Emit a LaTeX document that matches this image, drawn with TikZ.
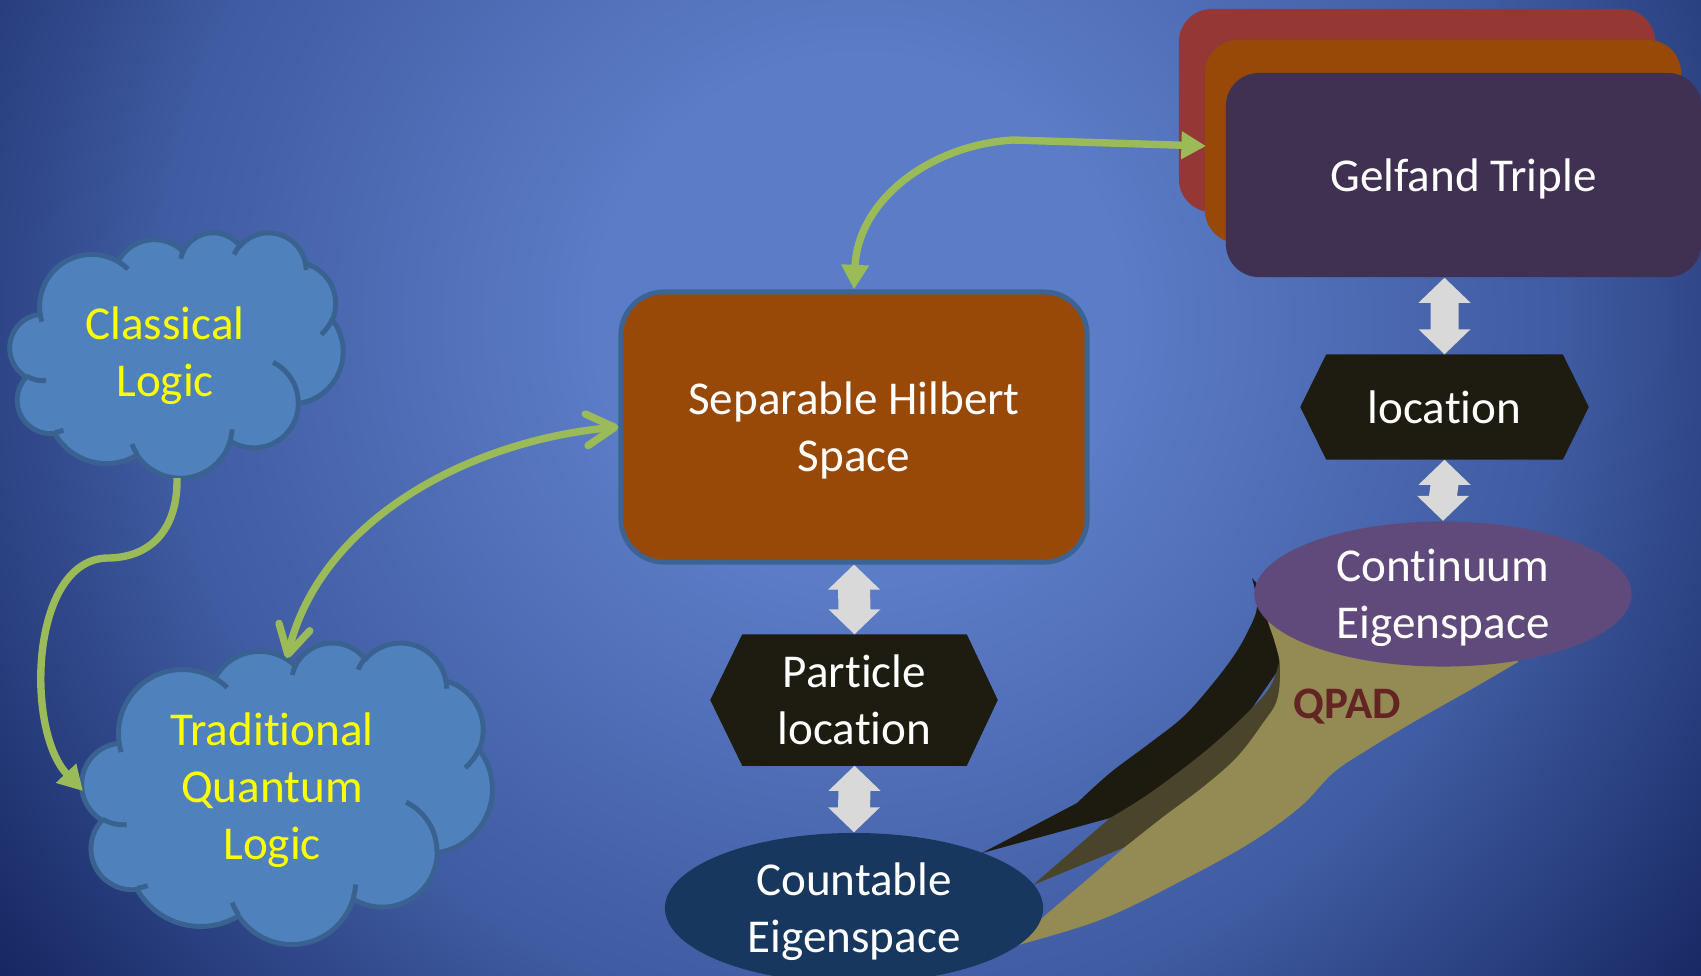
\documentclass[tikz,border=0pt]{standalone}
\usepackage{fontspec}
\setmainfont{Carlito}[Ligatures=CommonOff]
\usetikzlibrary{shapes.geometric,arrows.meta,calc}
\definecolor{bgin}{HTML}{5B7CC6}
\definecolor{bgmid}{HTML}{3F5BA1}
\definecolor{bgout}{HTML}{14245E}
\definecolor{cloudfill}{HTML}{4F81BD}
\definecolor{cloudline}{HTML}{3A6290}
\definecolor{hfill}{HTML}{984807}
\definecolor{hline}{HTML}{3B6494}
\definecolor{hexfill}{HTML}{1E1B11}
\definecolor{arrgrey}{HTML}{D9D9D9}
\definecolor{cfill}{HTML}{17375E}
\definecolor{ctfill}{HTML}{604A7B}
\definecolor{gred}{HTML}{953735}
\definecolor{gorange}{HTML}{984807}
\definecolor{gpurple}{HTML}{403152}
\definecolor{qblack}{HTML}{1D1B10}
\definecolor{qolive}{HTML}{4A452A}
\definecolor{qkhaki}{HTML}{948A54}
\definecolor{qtext}{HTML}{632523}
\definecolor{garrow}{HTML}{9BBB59}
\definecolor{ytext}{HTML}{FFFF00}
% the middle 50bp square of a shading is stretched over the shaded path: 25bp = half side
\pgfdeclareradialshading{bgshade}{\pgfpoint{0bp}{0bp}}{color(0bp)=(bgin); color(6bp)=(bgin); color(16bp)=(bgmid); color(25bp)=(bgout); color(50bp)=(bgout)}
\pgfdeclarelayer{bglayer}
\pgfdeclarelayer{hexlayer}
\pgfsetlayers{bglayer,hexlayer,main}
% grey double block arrow from #1 (top tip) to #2 (bottom tip), shaft half width #3
\newcommand{\udarrow}[3]{%
  \fill[arrgrey] (#1) -- ($(#1)+(26,25)$) -- ($(#1)+(#3,25)$) -- ($(#2)+(#3,-25)$) -- ($(#2)+(26,-25)$) -- (#2)
    -- ($(#2)+(-26,-25)$) -- ($(#2)+(-#3,-25)$) -- ($(#1)+(-#3,25)$) -- ($(#1)+(-26,25)$) -- cycle;}
% DrawingML style elliptic arc: wR, hR, start angle, sweep angle (visual angles)
\newcommand{\oarc}[4]{arc[start angle={atan2(#1*sin(#3),#2*cos(#3))}, delta angle={mod(atan2(#1*sin(#3+#4),#2*cos(#3+#4))-atan2(#1*sin(#3),#2*cos(#3))+720,360)}, x radius=#1, y radius=#2]}
% PowerPoint cloud in a 432x432 box
\newcommand{\cloudpath}{(39.00,143.70) \oarc{67.53}{91.90}{-190.487}{123.781} \oarc{53.33}{72.67}{-144.102}{89.945}
  \oarc{43.65}{59.45}{-145.808}{99.723} \oarc{48.57}{65.95}{-130.986}{117.242} \oarc{53.33}{72.73}{-78.709}{109.027}
  \oarc{67.75}{92.20}{-46.267}{130.269} \oarc{57.85}{78.67}{0.625}{114.033} \oarc{67.52}{92.15}{22.452}{115.173}
  \oarc{77.20}{105.43}{66.243}{75.711} \oarc{43.60}{59.18}{-274.942}{146.736} \oarc{43.45}{59.45}{-246.829}{152.519} -- cycle}
\newcommand{\cloudinner}{(46.93,261.77) \oarc{43.45}{59.45}{86.742}{26.430}
  (69.28,348.99) \oarc{43.60}{59.18}{73.610}{11.447}
  (164.78,390.90) \oarc{67.52}{92.15}{137.624}{14.081}
  (288.27,347.51) \oarc{67.52}{92.15}{6.453}{15.998}
  (341.29,229.54) \oarc{57.85}{78.67}{-70.292}{70.917}
  (417.98,153.54) \oarc{53.33}{72.73}{30.318}{27.752}
  (383.24,54.26) \oarc{48.57}{65.95}{-13.744}{14.859}
  (290.78,39.52) \oarc{48.57}{65.95}{-149.181}{18.195}
  (221.41,47.20) \oarc{43.65}{59.45}{-163.494}{17.686}
  (140.00,51.92) \oarc{67.53}{91.90}{-66.707}{12.319}
  (41.27,157.89) \oarc{67.53}{91.90}{157.654}{11.858}}
\tikzset{
  lbl/.style={font=\fontsize{13.4pt}{16.2pt}\selectfont, align=center, text=white, inner sep=0pt, text depth=0pt},
  cloudfillstyle/.style={fill=cloudfill, draw=cloudline, line width=1.4pt, line join=round},
  cloudlinestyle/.style={draw=cloudline, line width=1.4pt},
  gbox/.style={rectangle, rounded corners=0.33cm, inner sep=0pt, minimum width=4.76cm, minimum height=2.03cm},
  eig/.style={lbl, ellipse},
  garr/.style={draw=garrow, line width=2.1pt},
  fhead/.tip={Triangle[length=7pt,width=7.5pt]},
  ohead/.tip={Straight Barb[length=8pt,width=9pt,round]}
}
\begin{document}
\begin{tikzpicture}[x=0.01cm,y=-0.01cm]
\useasboundingbox (0,0) rectangle (1701,975);
\begin{pgfonlayer}{bglayer}
\begin{scope}
\clip (0,0) rectangle (1701,975);
\shade[shading=bgshade] (-240,-780) rectangle (1960,1420);
\end{scope}
\end{pgfonlayer}

% clouds
\begin{scope}[shift={(10,232)}, x=0.0077083cm, y=-0.0056713cm]
\filldraw[cloudfillstyle] \cloudpath;
\draw[cloudlinestyle] \cloudinner;
\end{scope}
\node[lbl, text=ytext] (clt) at (165,352) {Classical\\Logic};
\begin{scope}[shift={(82,642)}, x=0.0094907cm, y=-0.0069676cm]
\filldraw[cloudfillstyle] \cloudpath;
\draw[cloudlinestyle] \cloudinner;
\end{scope}
\node[lbl, text=ytext] (tqt) at (272,786) {Traditional\\Quantum\\Logic};

% Hilbert space
\node[lbl, rectangle, rounded corners=0.43cm, fill=hfill, draw=hline, line width=1.4pt, minimum width=4.66cm, minimum height=2.70cm] (hs) at (854,427) {Separable Hilbert\\Space};

% Gelfand triple
\node[gbox, fill=gred] (gr) at (1417,110.5) {};
\node[gbox, fill=gorange] (go) at (1443,141.5) {};
\node[gbox, lbl, fill=gpurple, minimum width=4.75cm, minimum height=2.04cm] (gp) at (1463.5,175) {Gelfand Triple};

% hexagons
\node[lbl, minimum width=2.23cm, minimum height=1.30cm] (pl) at (854.5,700) {Particle\\location};
\node[lbl, minimum width=2.35cm, minimum height=1.04cm] (lo) at (1444.5,407) {location};
\begin{pgfonlayer}{hexlayer}
\fill[hexfill] (pl.north west) -- (pl.north east) -- ($(pl.east)+(31,0)$) -- (pl.south east) -- (pl.south west) -- ($(pl.west)+(-32,0)$) -- cycle;
\fill[hexfill] (lo.north west) -- (lo.north east) -- ($(lo.east)+(26,0)$) -- (lo.south east) -- (lo.south west) -- ($(lo.west)+(-26,0)$) -- cycle;
\end{pgfonlayer}

% QPAD
\fill[qblack] plot[smooth, tension=0.6] coordinates {(1252,578) (1257,607) (1247,633) (1233,657) (1210,687) (1183,717) (1150,743) (1110,773) (1077,803)} -- (982,853) -- (1110,818) -- (1150,800) -- (1230,740) -- (1285,660) -- (1280,610) -- cycle;
\fill[qolive] plot[smooth, tension=0.6] coordinates {(1281,655) (1270,687) (1243,717) (1203,753) (1150,793) (1110,818)} -- (1033,885) -- (1125,847) -- (1200,800) -- (1260,740) -- (1292,690) -- cycle;
\fill[qkhaki] plot[smooth, tension=0.6] coordinates {(1262,600) (1268,622) (1275,643) (1280,667) (1277,700) (1263,723) (1237,757) (1203,787) (1163,817) (1125,847)} -- (1007,948) -- plot[smooth, tension=0.6] coordinates {(1007,948) (1100,920) (1183,880) (1250,843) (1300,807) (1333,773) (1367,750) (1417,720) (1470,690) (1518,662)} -- (1500,610) -- (1300,600) -- cycle;
\node[font=\bfseries\fontsize{12.8pt}{15pt}\selectfont, text=qtext, inner sep=0pt] (qp) at (1347,707) {QPAD};

% eigenspaces
\node[eig, fill=cfill, minimum width=3.78cm, minimum height=1.50cm] (ce) at (854,908) {Countable\\Eigenspace};
\node[eig, fill=ctfill, minimum width=3.77cm, minimum height=1.45cm] (ct) at (1443,594) {Continuum\\Eigenspace};

% grey double arrows
\coordinate (gpb) at (gp.south -| lo.north);
\udarrow{hs.south}{pl.north}{16}
\udarrow{pl.south}{ce.north}{16}
\udarrow{gpb}{lo.north}{14}
\udarrow{lo.south}{ct.north}{14}

% green connectors
\coordinate (c1s) at (177,478);
\coordinate (c1e) at (83,791);
\coordinate (c2e) at (287,658);
\coordinate (c3e) at (1206,146);
\draw[garr, -fhead] (c1s) .. controls (178,530) and (150,558) .. (107,558) .. controls (30,560) and (25,730) .. (c1e);
\draw[garr, ohead-ohead] (hs.west) .. controls (470,440) and (320,520) .. (c2e);
\draw[garr, fhead-fhead] (hs.north) .. controls (858,200) and (930,145) .. (1013,140) -- (c3e);
\end{tikzpicture}
\end{document}
